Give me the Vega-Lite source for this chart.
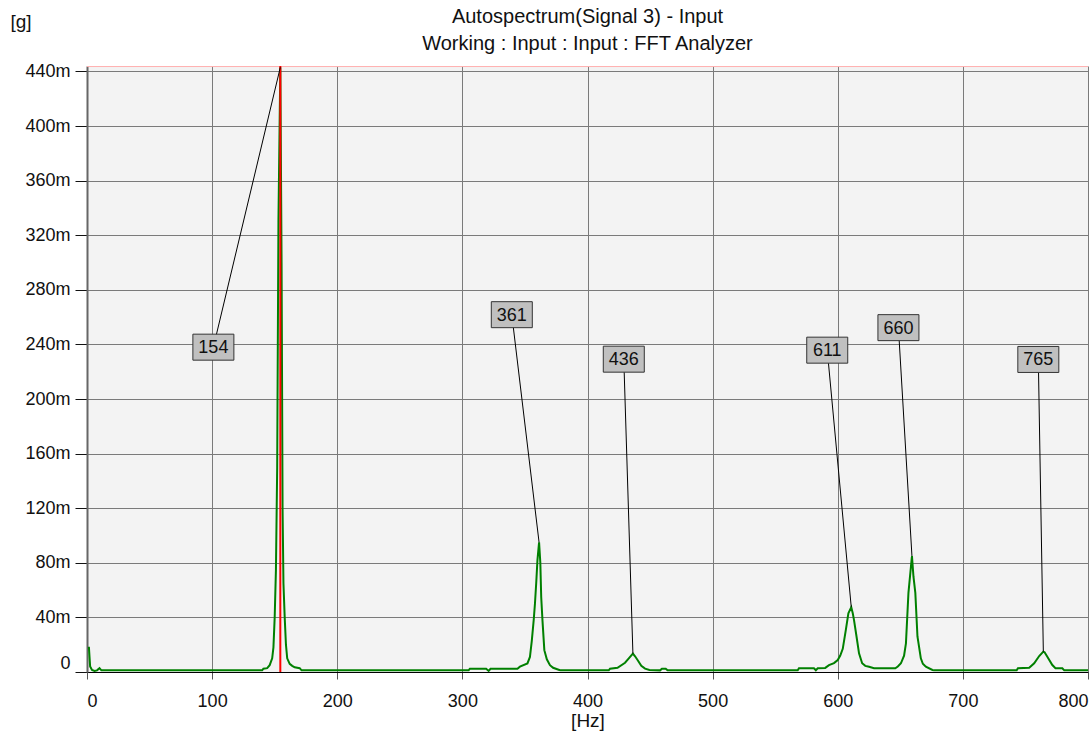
{
  "$schema": "https://vega.github.io/schema/vega-lite/v6.json",
  "width": 1001,
  "height": 606,
  "autosize": {"type": "none"},
  "padding": {"left": 87, "top": 66, "right": 4, "bottom": 64},
  "background": "white",
  "config": {
    "view": {"fill": "#f3f3f3", "stroke": null},
    "font": "Liberation Sans",
    "axis": {
      "labelFont": "Liberation Sans",
      "titleFont": "Liberation Sans",
      "labelColor": "#111111",
      "titleColor": "#111111",
      "titleFontWeight": "normal",
      "gridColor": "#7a7a7a",
      "gridOpacity": 1,
      "gridWidth": 1
    }
  },
  "title": {
    "text": ["Autospectrum(Signal 3) - Input", "Working : Input : Input : FFT Analyzer"],
    "font": "Liberation Sans",
    "fontSize": 20,
    "fontWeight": "normal",
    "color": "#111111",
    "anchor": "middle",
    "frame": "group",
    "lineHeight": 27,
    "offset": 14,
    "dy": 56
  },
  "datasets": {
    "spectrum": [
      {"hz": 1.5, "g": 0.0185}, {"hz": 2.5, "g": 0.004}, {"hz": 4, "g": 0.0015}, {"hz": 6, "g": 0.0008},
      {"hz": 8, "g": 0.0012}, {"hz": 10, "g": 0.0028}, {"hz": 11.5, "g": 0.0012}, {"hz": 140, "g": 0.0012},
      {"hz": 141, "g": 0.0024}, {"hz": 144, "g": 0.0028}, {"hz": 146, "g": 0.005}, {"hz": 148, "g": 0.010},
      {"hz": 149, "g": 0.018}, {"hz": 150, "g": 0.040}, {"hz": 151, "g": 0.075}, {"hz": 152, "g": 0.15},
      {"hz": 153, "g": 0.33}, {"hz": 154.5, "g": 0.443}, {"hz": 155.5, "g": 0.30}, {"hz": 156.3, "g": 0.12},
      {"hz": 157, "g": 0.065}, {"hz": 158, "g": 0.040}, {"hz": 159, "g": 0.020}, {"hz": 160, "g": 0.010},
      {"hz": 162, "g": 0.006}, {"hz": 164, "g": 0.0045}, {"hz": 166, "g": 0.0034}, {"hz": 170, "g": 0.0028},
      {"hz": 171.5, "g": 0.0012}, {"hz": 305, "g": 0.0012}, {"hz": 306, "g": 0.0024}, {"hz": 319, "g": 0.0024},
      {"hz": 321, "g": 0.0008}, {"hz": 322.5, "g": 0.0024}, {"hz": 344, "g": 0.0024}, {"hz": 346, "g": 0.0039},
      {"hz": 352, "g": 0.0063}, {"hz": 354, "g": 0.011}, {"hz": 355.5, "g": 0.023}, {"hz": 357, "g": 0.038},
      {"hz": 358, "g": 0.05}, {"hz": 359, "g": 0.065}, {"hz": 360, "g": 0.082}, {"hz": 361.3, "g": 0.095},
      {"hz": 362.3, "g": 0.08}, {"hz": 363, "g": 0.055}, {"hz": 364, "g": 0.038}, {"hz": 365.5, "g": 0.016},
      {"hz": 367.5, "g": 0.0093}, {"hz": 370, "g": 0.005}, {"hz": 372.5, "g": 0.0031}, {"hz": 377.5, "g": 0.0015},
      {"hz": 378.5, "g": 0.0012}, {"hz": 417, "g": 0.0012}, {"hz": 418, "g": 0.0024}, {"hz": 424, "g": 0.0031},
      {"hz": 430, "g": 0.0068}, {"hz": 433, "g": 0.010}, {"hz": 436.3, "g": 0.0135}, {"hz": 438, "g": 0.0115},
      {"hz": 440, "g": 0.0088}, {"hz": 443, "g": 0.0046}, {"hz": 446, "g": 0.0025}, {"hz": 449.5, "g": 0.0015},
      {"hz": 458, "g": 0.0012}, {"hz": 459.5, "g": 0.0024}, {"hz": 462.5, "g": 0.0024}, {"hz": 464, "g": 0.0012},
      {"hz": 568, "g": 0.0012}, {"hz": 569, "g": 0.0027}, {"hz": 581, "g": 0.0027}, {"hz": 582.5, "g": 0.0013},
      {"hz": 584, "g": 0.0027}, {"hz": 590, "g": 0.003}, {"hz": 593, "g": 0.005}, {"hz": 597, "g": 0.0065},
      {"hz": 600, "g": 0.0088}, {"hz": 602, "g": 0.012}, {"hz": 604, "g": 0.017}, {"hz": 606.5, "g": 0.031},
      {"hz": 608.5, "g": 0.043}, {"hz": 610.8, "g": 0.0475}, {"hz": 612, "g": 0.043}, {"hz": 613, "g": 0.038},
      {"hz": 615, "g": 0.026}, {"hz": 617, "g": 0.0137}, {"hz": 619.5, "g": 0.0064}, {"hz": 622, "g": 0.0045},
      {"hz": 625, "g": 0.0039}, {"hz": 629, "g": 0.0027}, {"hz": 646, "g": 0.0027}, {"hz": 648, "g": 0.004},
      {"hz": 650.5, "g": 0.0064}, {"hz": 653, "g": 0.012}, {"hz": 654.5, "g": 0.021}, {"hz": 656.5, "g": 0.058},
      {"hz": 659.3, "g": 0.085}, {"hz": 660.5, "g": 0.07}, {"hz": 662, "g": 0.058}, {"hz": 663.7, "g": 0.026},
      {"hz": 666.4, "g": 0.010}, {"hz": 668, "g": 0.006}, {"hz": 670.4, "g": 0.0039}, {"hz": 675.7, "g": 0.0015},
      {"hz": 677, "g": 0.0012}, {"hz": 743, "g": 0.0012}, {"hz": 744, "g": 0.0027}, {"hz": 753, "g": 0.0031},
      {"hz": 757, "g": 0.0064}, {"hz": 761, "g": 0.0117}, {"hz": 764.3, "g": 0.0149}, {"hz": 765.3, "g": 0.0145},
      {"hz": 767.5, "g": 0.0112}, {"hz": 771.5, "g": 0.0051}, {"hz": 774, "g": 0.0027}, {"hz": 779.5, "g": 0.0027},
      {"hz": 781, "g": 0.0012}, {"hz": 800, "g": 0.0012}
    ],
    "peaks": [
      {"label": "154", "bx": 101, "by": 0.238, "px": 154.5, "py": 0.443},
      {"label": "361", "bx": 339.5, "by": 0.2618, "px": 361.3, "py": 0.095},
      {"label": "436", "bx": 429, "by": 0.2292, "px": 436.3, "py": 0.0135},
      {"label": "611", "bx": 591.6, "by": 0.2358, "px": 610.8, "py": 0.0475},
      {"label": "660", "bx": 648.5, "by": 0.2523, "px": 659.3, "py": 0.085},
      {"label": "765", "bx": 760.3, "by": 0.229, "px": 764.3, "py": 0.0149}
    ],
    "cursor": [{"hz": 154.5, "limit": 0.4436}]
  },
  "layer": [
    {
      "data": {"name": "spectrum"},
      "mark": {"type": "line", "color": "#008000", "strokeWidth": 2, "interpolate": "linear"},
      "encoding": {
        "x": {
          "field": "hz", "type": "quantitative",
          "scale": {"domain": [0, 800], "nice": false, "zero": false},
          "axis": {
            "title": "[Hz]",
            "values": [0, 100, 200, 300, 400, 500, 600, 700, 800],
            "grid": true,
            "labelFlush": true,
            "labelFontSize": 18,
            "labelPadding": 13,
            "tickSize": 7,
            "tickColor": "#555555",
            "domainColor": "#000000",
            "domainWidth": 1,
            "titleFontSize": 19,
            "titlePadding": 1
          }
        },
        "y": {
          "field": "g", "type": "quantitative",
          "scale": {"domain": [0, 0.444], "nice": false, "zero": false},
          "axis": {
            "title": "[g]",
            "values": [0, 0.04, 0.08, 0.12, 0.16, 0.2, 0.24, 0.28, 0.32, 0.36, 0.4, 0.44],
            "format": "~s",
            "labelExpr": "datum.value === 0 ? '0' : datum.label",
            "grid": true,
            "labelFlush": true,
            "labelFontSize": 18,
            "labelPadding": 5,
            "tickSize": 12,
            "tickColor": "#111111",
            "domainColor": "#666666",
            "domainWidth": 2,
            "titleAngle": 0,
            "titleAlign": "left",
            "titleBaseline": "middle",
            "titleX": -77,
            "titleY": -45,
            "titleFontSize": 19
          }
        }
      }
    },
    {
      "data": {"name": "cursor"},
      "mark": {"type": "rule", "color": "#ffb0b0", "strokeWidth": 1},
      "encoding": {"y": {"field": "limit", "type": "quantitative"}}
    },
    {
      "data": {"name": "cursor"},
      "mark": {"type": "rule", "color": "#ff0000", "strokeWidth": 2},
      "encoding": {"x": {"field": "hz", "type": "quantitative"}}
    },
    {
      "data": {"name": "peaks"},
      "mark": {"type": "rule", "color": "#000000", "strokeWidth": 1},
      "encoding": {
        "x": {"field": "bx", "type": "quantitative"},
        "y": {"field": "by", "type": "quantitative"},
        "x2": {"field": "px"},
        "y2": {"field": "py"}
      }
    },
    {
      "data": {"name": "peaks"},
      "mark": {
        "type": "point",
        "shape": "M-1,-0.634L1,-0.634L1,0.634L-1,0.634Z",
        "size": 1681,
        "filled": true,
        "fill": "#c0c0c0",
        "stroke": "#333333",
        "strokeWidth": 1,
        "opacity": 1
      },
      "encoding": {
        "x": {"field": "bx", "type": "quantitative"},
        "y": {"field": "by", "type": "quantitative"}
      }
    },
    {
      "data": {"name": "peaks"},
      "mark": {"type": "text", "fontSize": 18, "font": "Liberation Sans", "color": "#111111", "align": "center", "baseline": "middle", "dy": 1},
      "encoding": {
        "x": {"field": "bx", "type": "quantitative"},
        "y": {"field": "by", "type": "quantitative"},
        "text": {"field": "label"}
      }
    }
  ]
}
